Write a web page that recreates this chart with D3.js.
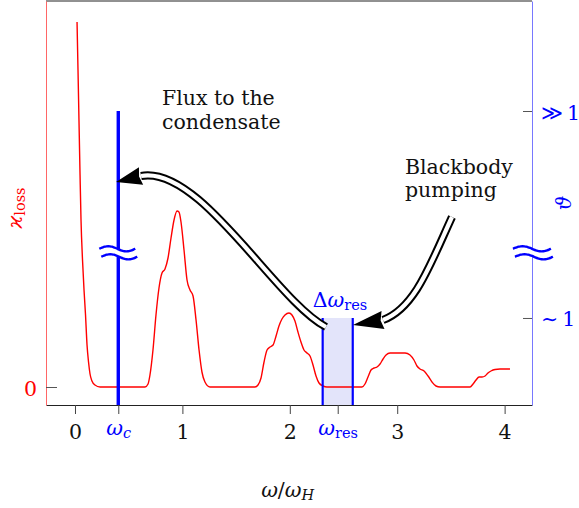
<!DOCTYPE html>
<html>
<head>
<meta charset="utf-8">
<script src="https://cdn.jsdelivr.net/npm/d3@7"></script>
<style>
  body { margin: 0; background: #fff; }
  svg { display: block; font-family: "DejaVu Serif", serif; }
</style>
</head>
<body>
<svg id="chart"></svg>
<script>
// loss rate kappa_loss(omega), omega in units of omega_H
const omega = [
  0.019, 0.028, 0.037, 0.047, 0.056, 0.070, 0.084, 0.098, 0.112, 0.126, 0.140, 0.158, 0.186, 0.233,
  0.652, 0.680, 0.698, 0.726, 0.754, 0.782, 0.810, 0.838, 0.866, 0.894, 0.922, 0.950, 0.968, 0.987,
  1.015, 1.043, 1.071, 1.099, 1.127, 1.155, 1.182, 1.210, 1.257,
  1.676, 1.704, 1.732, 1.760, 1.788, 1.816, 1.844, 1.872, 1.899, 1.927, 1.955, 1.992, 2.020, 2.048,
  2.076, 2.104, 2.132, 2.160, 2.188, 2.216, 2.244, 2.272, 2.309, 2.346,
  2.672, 2.700, 2.728, 2.756, 2.784, 2.812, 2.840, 2.868, 2.896, 2.933, 2.980, 3.026, 3.073, 3.119,
  3.156, 3.184, 3.212, 3.250, 3.287, 3.324, 3.361, 3.399,
  3.678, 3.706, 3.734, 3.762, 3.790, 3.818, 3.845, 3.873, 3.911, 3.957, 4.004, 4.050
];
const kappaLoss = [
  3.65, 3.17, 2.67, 2.12, 1.67, 1.27, 0.97, 0.72, 0.42, 0.25, 0.13, 0.06, 0.02, 0,
  0, 0.03, 0.12, 0.37, 0.72, 0.99, 1.14, 1.18, 1.29, 1.49, 1.67, 1.76, 1.75, 1.65,
  1.37, 1.07, 0.97, 0.91, 0.67, 0.37, 0.15, 0.05, 0,
  0, 0.02, 0.09, 0.25, 0.37, 0.40, 0.42, 0.51, 0.61, 0.68, 0.72, 0.74, 0.72, 0.66,
  0.55, 0.45, 0.37, 0.34, 0.31, 0.22, 0.11, 0.04, 0.01, 0,
  0, 0.03, 0.10, 0.17, 0.19, 0.20, 0.23, 0.28, 0.32, 0.34, 0.34, 0.34, 0.34, 0.32,
  0.27, 0.21, 0.18, 0.16, 0.11, 0.05, 0.01, 0,
  0, 0.03, 0.07, 0.10, 0.10, 0.11, 0.14, 0.16, 0.175, 0.18, 0.18, 0.18
];

const omegaC = 0.403;
const omegaRes = 2.446;
const deltaOmegaRes = 0.28;
const thetaCondensate = 3;   // "≫ 1"
const thetaRes = 1;          // "~ 1"
const thetaBreak = 1.63;

const xTickValues = [0, omegaC, 1, 2, omegaRes, 3, 4];
const xTickLabels = [["0"], ["ω", "c"], ["1"], ["2"], ["ω", "res"], ["3"], ["4"]];
const leftTickValues = [0];
const leftTickLabels = ["0"];
const rightTickValues = [1, 3];
const rightTickLabels = ["∼\u20091", "≫\u20091"];

// arrows in data coords: tail, control 1, control 2, head base, tip
const fluxArrow = [[2.337, 0.60], [1.862, 0.87], [1.164, 2.22], [0.615, 2.11], [0.382, 2.05]];
const pumpArrow = [[3.510, 1.70], [3.305, 1.22], [3.166, 0.79], [2.868, 0.67], [2.588, 0.62]];

const width = 579, height = 508;
const margin = { top: 1, right: 47, bottom: 103, left: 46 };
const innerW = width - margin.left - margin.right;
const innerH = height - margin.top - margin.bottom;

const red = "#ff0000", blue = "#0000ff";
const fontSize = 20.5, subSize = 14.5;

const svg = d3.select("#chart").attr("width", width).attr("height", height);

const x = d3.scaleLinear().domain([-0.27, 4.255]).range([0, innerW]);
const y = d3.scaleLinear().domain([-0.18, 3.86]).range([innerH, 0]);
const yR = d3.scaleLinear().domain([0.159, 4.063]).range([innerH, 0]);

const chart = svg.append("g")
  .attr("transform", `translate(${margin.left},${margin.top})`);

// top frame
chart.append("line")
  .attr("x1", 0).attr("x2", innerW).attr("y1", 0).attr("y2", 0)
  .attr("stroke", "#222").attr("stroke-width", 1);

// resonance band
chart.append("rect")
  .attr("x", x(omegaRes - deltaOmegaRes / 2))
  .attr("width", x(omegaRes + deltaOmegaRes / 2) - x(omegaRes - deltaOmegaRes / 2))
  .attr("y", yR(thetaRes))
  .attr("height", innerH - yR(thetaRes))
  .attr("fill", "#e3e4fa");

// loss curve
const line = d3.line()
  .x((d, i) => x(omega[i]))
  .y(d => y(d))
  .curve(d3.curveMonotoneX);

chart.append("path")
  .datum(kappaLoss)
  .attr("fill", "none")
  .attr("stroke", red)
  .attr("stroke-width", 1.4)
  .attr("d", line);

// band edges
chart.selectAll(".band-edge")
  .data([omegaRes - deltaOmegaRes / 2, omegaRes + deltaOmegaRes / 2])
  .join("line")
  .attr("class", "band-edge")
  .attr("x1", d => x(d)).attr("x2", d => x(d))
  .attr("y1", yR(thetaRes)).attr("y2", innerH)
  .attr("stroke", blue).attr("stroke-width", 2.2);

// condensate line
chart.append("line")
  .attr("x1", x(omegaC)).attr("x2", x(omegaC))
  .attr("y1", yR(thetaCondensate)).attr("y2", innerH)
  .attr("stroke", blue).attr("stroke-width", 3.4);

// axes
const xAxis = d3.axisBottom(x).tickValues(xTickValues).tickSize(9).tickSizeOuter(0).tickFormat("");
const yAxis = d3.axisLeft(y).tickValues(leftTickValues).tickSize(-11).tickSizeOuter(0).tickFormat("");
const yAxisR = d3.axisRight(yR).tickValues(rightTickValues).tickSize(-9).tickSizeOuter(0).tickFormat("");

const xAxisGroup = chart.append("g")
  .attr("transform", `translate(0,${innerH})`)
  .call(xAxis)
  .attr("font-family", null).attr("font-size", null);
xAxisGroup.select(".domain").attr("stroke", "#222");
xAxisGroup.selectAll(".tick line").attr("stroke", "#444");
xAxisGroup.selectAll(".tick text").each(function (d, i) {
  const lab = xTickLabels[i];
  const t = d3.select(this)
    .attr("dy", null)
    .attr("font-size", fontSize)
    .attr("fill", lab.length > 1 ? blue : "#111")
    .attr("y", lab.length > 1 ? 30 : 34);
  t.append("tspan").attr("font-style", lab.length > 1 ? "italic" : null).text(lab[0]);
  if (lab.length > 1) {
    t.append("tspan")
      .attr("font-size", subSize)
      .attr("font-style", lab[1] === "c" ? "italic" : null)
      .attr("dy", 3)
      .text(lab[1]);
  }
});

const yAxisGroup = chart.append("g")
  .call(yAxis)
  .attr("font-family", null).attr("font-size", null);
yAxisGroup.select(".domain").attr("stroke", "#ff6666");
yAxisGroup.selectAll(".tick line").attr("stroke", "#555");
yAxisGroup.selectAll(".tick text")
  .attr("dy", null).attr("x", -9).attr("y", 8)
  .attr("font-size", fontSize).attr("fill", red)
  .text((d, i) => leftTickLabels[i]);

const yAxisRGroup = chart.append("g")
  .attr("transform", `translate(${innerW},0)`)
  .call(yAxisR)
  .attr("font-family", null).attr("font-size", null);
yAxisRGroup.select(".domain").attr("stroke", "#7878ff");
yAxisRGroup.selectAll(".tick line").attr("stroke", "#555");
yAxisRGroup.selectAll(".tick text")
  .attr("dy", null).attr("x", 9).attr("y", 8)
  .attr("font-size", fontSize).attr("fill", blue)
  .text((d, i) => rightTickLabels[i]);

// axis titles
const xTitle = svg.append("text")
  .attr("x", margin.left + x(1.98)).attr("y", 497)
  .attr("text-anchor", "middle").attr("font-size", fontSize).attr("fill", "#111");
xTitle.append("tspan").attr("font-style", "italic").text("ω");
xTitle.append("tspan").text("/");
xTitle.append("tspan").attr("font-style", "italic").text("ω");
xTitle.append("tspan").attr("font-style", "italic").attr("font-size", subSize).attr("dy", 3).text("H");

const yTitle = svg.append("text")
  .attr("transform", "translate(22,208) rotate(-90)")
  .attr("text-anchor", "middle").attr("font-size", fontSize).attr("fill", red);
yTitle.append("tspan").attr("font-style", "italic").text("ϰ");
yTitle.append("tspan").attr("font-size", subSize).attr("dy", 3).text("loss");

svg.append("text")
  .attr("transform", "translate(571,203) rotate(-90)")
  .attr("text-anchor", "middle").attr("font-size", fontSize)
  .attr("font-style", "italic").attr("fill", blue)
  .text("ϑ");

// axis breaks
function drawBreak(cx, cy, halfW) {
  const amp = 2.6, gap = 8;
  const ts = d3.range(-1, 1.001, 0.1);
  const top = ts.map(t => [cx + t * halfW, cy - gap / 2 - amp * Math.sin(Math.PI * (t + 1))]);
  const bot = ts.map(t => [cx + 2 + t * halfW, cy + gap / 2 - amp * Math.sin(Math.PI * (t + 1))]);
  const g = chart.append("g");
  g.append("path")
    .attr("d", d3.line()(top.concat(bot.slice().reverse())) + "Z")
    .attr("fill", "#fff").attr("stroke", "none");
  g.selectAll(".wave").data([top, bot]).join("path")
    .attr("d", d3.line().curve(d3.curveBasis))
    .attr("fill", "none").attr("stroke", blue).attr("stroke-width", 2.4);
}
drawBreak(x(omegaC) - 1, yR(thetaBreak), 18);
drawBreak(innerW, yR(thetaBreak), 19);

// double-stroke arrows
function drawArrow(pts) {
  const p = pts.map(d => [x(d[0]), y(d[1])]);
  const d = `M${p[0]}C${p[1]} ${p[2]} ${p[3]}`;
  chart.append("path").attr("d", d).attr("fill", "none")
    .attr("stroke", "#000").attr("stroke-width", 8.2);
  chart.append("path").attr("d", d).attr("fill", "none")
    .attr("stroke", "#fff").attr("stroke-width", 4.2);
  const base = p[3], tip = p[4];
  const dx = tip[0] - base[0], dy = tip[1] - base[1];
  const len = Math.hypot(dx, dy);
  const nx = -dy / len * 9, ny = dx / len * 9;
  chart.append("path")
    .attr("d", d3.line()([tip, [base[0] + nx, base[1] + ny], [base[0] + dx * 0.08, base[1] + dy * 0.08], [base[0] - nx, base[1] - ny]]) + "Z")
    .attr("fill", "#000");
}
drawArrow(fluxArrow);
drawArrow(pumpArrow);

// annotations
const dLabel = svg.append("text")
  .attr("x", 340).attr("y", 307)
  .attr("text-anchor", "middle").attr("font-size", fontSize).attr("fill", blue);
dLabel.append("tspan").text("Δ");
dLabel.append("tspan").attr("font-style", "italic").text("ω");
dLabel.append("tspan").attr("font-size", subSize).attr("dy", 3).text("res");

svg.selectAll(".note")
  .data([
    { x: 162, y: 105, t: "Flux to the" },
    { x: 162, y: 128.5, t: "condensate" },
    { x: 405, y: 173.5, t: "Blackbody" },
    { x: 405, y: 197, t: "pumping" }
  ])
  .join("text")
  .attr("class", "note")
  .attr("x", d => d.x).attr("y", d => d.y)
  .attr("font-size", fontSize).attr("fill", "#111")
  .text(d => d.t);
</script>
</body>
</html>
